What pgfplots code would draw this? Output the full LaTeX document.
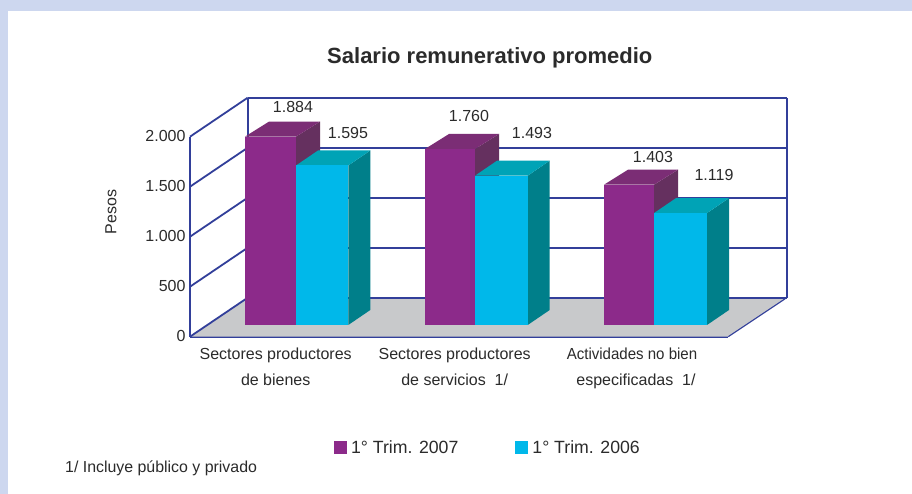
\documentclass[border=0pt]{standalone}
\usepackage{fontspec}
\setmainfont{Liberation Sans}
\usepackage{pgfplots}
\pgfplotsset{compat=1.18}
\definecolor{wall}{HTML}{323F9A}
\definecolor{floorc}{HTML}{C8C9CB}
\definecolor{frame}{HTML}{CDD7EF}
\definecolor{txt}{HTML}{2B2B2B}
\definecolor{pf}{HTML}{8C2A8A}
\definecolor{pt}{HTML}{7B2D75}
\definecolor{ps}{HTML}{65305F}
\definecolor{cf}{HTML}{00B8EA}
\definecolor{ct}{HTML}{00A3B6}
\definecolor{cs}{HTML}{007F8A}
% x0, x1, value, depth x, front, top, side
\newcommand\threedbar[7]{%
  \addplot[forget plot,fill=#7,draw=none] coordinates {(#2,117) (#2+#4,267) (#2+#4,267+#3) (#2,117+#3)} -- cycle;
  \addplot[forget plot,fill=#6,draw=none] coordinates {(#1,117+#3) (#2,117+#3) (#2+#4,267+#3) (#1+#4,267+#3)} -- cycle;
  \addplot[forget plot,fill=#5,draw=none] coordinates {(#1,117) (#2,117) (#2,117+#3) (#1,117+#3)} -- cycle;
}
\newcommand\wallgrid[1]{%
  \addplot[forget plot,draw=wall,line width=1.8pt] coordinates {(190,#1) (247.7,#1+390)};
  \addplot[forget plot,draw=wall,line width=1.8pt] coordinates {(247.7,#1+390) (786.7,#1+390)};
}
\begin{document}
\begin{tikzpicture}[x=1pt,y=1pt]
\useasboundingbox (0,0) rectangle (912,494);
\fill[frame] (0,0) rectangle (912,494);
\fill[white] (8,0) rectangle (912,483);
\begin{axis}[
  at={(190pt,157.3pt)}, anchor=south west,
  scale only axis, width=538.3pt, height=200pt,
  xmin=190, xmax=728.3, ymin=0, ymax=2000,
  clip=false,
  axis x line*=bottom, axis y line*=left,
  axis line style={draw=wall,line width=2.4pt,-},
  major tick length=0pt,
  xtick={275.7,454.7,632},
  xticklabels={Sectores productores\\de bienes,Sectores productores\\de servicios\ \ 1/,\scalebox{0.94}[1]{Actividades no bien}\\\hspace*{8pt}especificadas\ \ 1/},
  xticklabel style={align=center,font=\fontsize{16}{26}\selectfont,text=txt,yshift=-8pt},
  ytick={0,500,1000,1500,2000},
  /pgf/number format/assume math mode=true,
  /pgf/number format/1000 sep={.},
  yticklabel style={font=\fontsize{16}{18}\selectfont,text=txt,xshift=-1pt,yshift=0.5pt},
  title={Salario remunerativo promedio},
  title style={at={(axis description cs:0.557,1.3635)},anchor=center,font=\fontsize{22}{26}\selectfont\bfseries,text=txt},
  legend style={draw=none,fill=none,at={(axis description cs:0.2675,-0.5565)},anchor=west,
    legend columns=2,font=\fontsize{17.7}{22}\selectfont,text=txt,
    /tikz/every even column/.append style={column sep=55pt},
    /tikz/every odd column/.append style={column sep=2pt},inner sep=0pt,outer sep=0pt},
  legend cell align=left,
]
% floor
\addplot[forget plot,fill=floorc,draw=none] coordinates {(190,0) (728.3,0) (786.7,390) (247.7,390)} -- cycle;
\addplot[forget plot,draw=wall,line width=1.1pt] coordinates {(728.3,0) (786.7,390)};
% walls
\wallgrid{0}\wallgrid{500}\wallgrid{1000}\wallgrid{1500}\wallgrid{2000}
\addplot[forget plot,draw=wall,line width=2pt] coordinates {(247.7,390) (247.7,2390)};
\addplot[forget plot,draw=wall,line width=2.4pt] coordinates {(786.7,390) (786.7,2390)};
% bars
\threedbar{245}{296}{1884}{24}{pf}{pt}{ps}
\threedbar{296}{348.3}{1595}{22}{cf}{ct}{cs}
\threedbar{425}{475}{1760}{24}{pf}{pt}{ps}
\threedbar{475}{527.7}{1493}{22}{cf}{ct}{cs}
\threedbar{604}{654}{1403}{24}{pf}{pt}{ps}
\threedbar{654}{707}{1119}{22}{cf}{ct}{cs}
% value labels
\begin{scope}[every node/.style={font=\fontsize{16}{18}\selectfont,text=txt}]
\node at (axis cs:293,2297) {1.884};
\node at (axis cs:348,2037) {1.595};
\node at (axis cs:469,2207) {1.760};
\node at (axis cs:532,2037) {1.493};
\node at (axis cs:653,1797) {1.403};
\node at (axis cs:714,1617) {1.119};
\node[rotate=90] at (axis cs:111,1247) {Pesos};
\node[anchor=west,inner sep=0pt,font=\fontsize{15.9}{18}\selectfont] at (axis cs:65,-1313) {1/ Incluye público y privado};
\end{scope}
\addlegendimage{area legend,fill=pf,draw=none,legend image code/.code={\fill[pf] (0pt,-6.5pt) rectangle (13pt,6.5pt);}}
\addlegendentry{1° Trim. 2007}
\addlegendimage{area legend,fill=cf,draw=none,legend image code/.code={\fill[cf] (0pt,-6.5pt) rectangle (13pt,6.5pt);}}
\addlegendentry{1° Trim. 2006}
\end{axis}
\end{tikzpicture}
\end{document}
